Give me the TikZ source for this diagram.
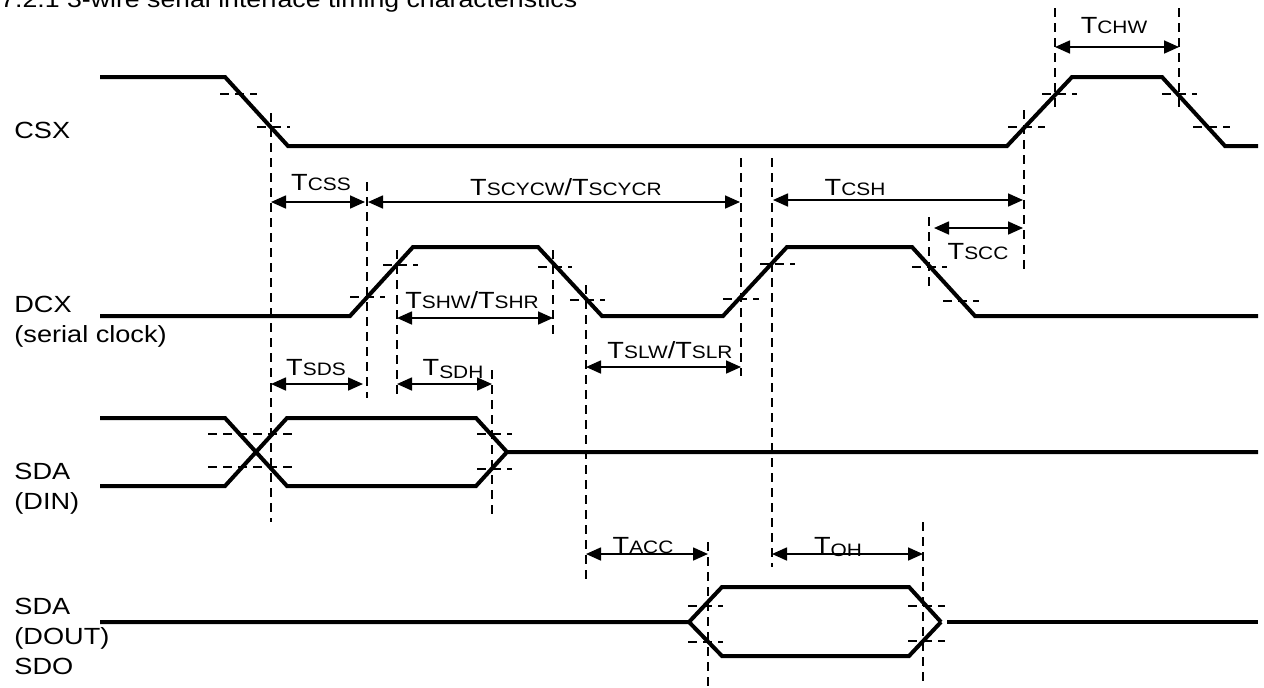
\documentclass[tikz,border=0pt]{standalone}
\usepackage{fontspec}
\setmainfont[FakeStretch=1.16]{Liberation Sans}
\usetikzlibrary{arrows.meta}
\newcommand\TT[1]{{\fontsize{11.7}{12}\selectfont T}{\fontsize{9}{9}\selectfont #1}}
\newcommand\TL[1]{{\fontsize{11.7}{12}\selectfont T}\raisebox{-1.5pt}{\fontsize{9}{9}\selectfont #1}}
\newcommand\SL{{\fontsize{11.7}{12}\selectfont /}}
\begin{document}
\begin{tikzpicture}[x=0.5pt,y=-0.5pt,
  sig/.style={line width=2pt},
  thr/.style={line width=0.9pt, dash pattern=on 4.5pt off 3pt},
  dim/.style={line width=0.85pt,{Triangle[length=7.5pt,width=6.5pt]}-{Triangle[length=7.5pt,width=6.5pt]}},
  lab/.style={font=\fontsize{11.7}{13}\selectfont, anchor=base west, inner sep=0},
  tl/.style={anchor=base, inner sep=0}]
\clip (0,0) rectangle (1264,687);
\fill[white] (0,0) rectangle (1264,687);

% title (cut at top in the reference)
\node[lab, font=\fontsize{11.5}{12}\selectfont] (title) at (0,7) {7.2.1 3-wire serial interface timing characteristics};

% left labels
\node[lab] (lcsx) at (14,138) {CSX};
\node[lab] (ldcx) at (14,312) {DCX};
\node[lab] (ldcx2) at (14,342) {(serial clock)};
\node[lab] (lsda) at (14,479) {SDA};
\node[lab] (lsda2) at (14,509) {(DIN)};
\node[lab] (lsdo) at (14,614) {SDA};
\node[lab] (lsdo2) at (14,644) {(DOUT)};
\node[lab] (lsdo3) at (14,674) {SDO};

% waveforms
\draw[sig] (100,77) -- (225,77) -- (288,146) -- (1007,146) -- (1072,77) -- (1162,77) -- (1225,146) -- (1258,146);
\draw[sig] (100,316) -- (350,316) -- (413,247) -- (538,247) -- (602,316) -- (723,316) -- (787,247) -- (912,247) -- (975,316) -- (1258,316);
\draw[sig] (100,418) -- (225,418) -- (287,486) -- (476,486) -- (507,452) -- (1258,452);
\draw[sig] (100,486) -- (225,486) -- (287,418) -- (476,418) -- (507,452);
\draw[sig] (100,622) -- (689,622) -- (722,587) -- (909,587) -- (941,622);
\draw[sig] (689,622) -- (722,656) -- (909,656) -- (941,622);
\draw[sig] (947,622) -- (1258,622);

% threshold ticks
\foreach \a/\b/\y in {220/257/94, 257/290/127, 1008/1045/127, 1042/1077/94, 1162/1197/94, 1193/1230/127,
  350/385/297, 383/418/265, 538/572/267, 570/605/300, 723/759/299, 760/795/264, 912/947/267, 943/979/301,
  208/293/434, 208/293/467, 477/512/434, 477/512/469,
  688/723/606, 688/723/642, 908/945/606, 908/945/641}
  \draw[thr] (\a,\y) -- (\b,\y);

% vertical reference lines
\foreach \x/\a/\b in {271/113/522, 367/182/398, 397/250/398, 553/250/337, 586/285/585,
  741/158/376, 772/158/567, 929/217/287, 1024/110/272, 1055/8/112, 1179/8/112,
  492/370/515, 708/542/687, 923/522/687}
  \draw[thr] (\x,\a) -- (\x,\b);

% dimension end points
\coordinate (chwA) at (1055,47);  \coordinate (chwB) at (1179,47);
\coordinate (cssA) at (271,202);  \coordinate (cssB) at (365,202);
\coordinate (scyA) at (368,202);  \coordinate (scyB) at (740,202);
\coordinate (cshA) at (773,200);  \coordinate (cshB) at (1023,200);
\coordinate (sccA) at (934,228);  \coordinate (sccB) at (1023,228);
\coordinate (shwA) at (397,318);  \coordinate (shwB) at (553,318);
\coordinate (slwA) at (586,367);  \coordinate (slwB) at (741,367);
\coordinate (sdsA) at (271,384);  \coordinate (sdsB) at (363,384);
\coordinate (sdhA) at (397,384);  \coordinate (sdhB) at (492,384);
\coordinate (accA) at (586,554);  \coordinate (accB) at (708,554);
\coordinate (ohA)  at (772,554);  \coordinate (ohB)  at (923,554);

\draw[dim] (chwA) -- (chwB);
\draw[dim] (cssA) -- (cssB);
\draw[dim] (scyA) -- (scyB);
\draw[dim] (cshA) -- (cshB);
\draw[dim] (sccA) -- (sccB);
\draw[dim] (shwA) -- (shwB);
\draw[dim] (slwA) -- (slwB);
\draw[dim] (sdsA) -- (sdsB);
\draw[dim] (sdhA) -- (sdhB);
\draw[dim] (accA) -- (accB);
\draw[dim] (ohA) -- (ohB);

% timing labels
\node[tl] (tchw) at (1114,33) {\TT{CHW}};
\node[tl] (tcss) at (321,190) {\TT{CSS}};
\node[tl] (tscy) at (566,195) {\TT{SCYCW}\SL\TT{SCYCR}};
\node[tl] (tcsh) at (855,195) {\TT{CSH}};
\node[tl] (tscc) at (978,259) {\TT{SCC}};
\node[tl] (tshw) at (472,308) {\TT{SHW}\SL\TT{SHR}};
\node[tl] (tslw) at (670,358) {\TT{SLW}\SL\TT{SLR}};
\node[tl] (tsds) at (316,375) {\TT{SDS}};
\node[tl] (tsdh) at (453,375) {\TL{SDH}};
\node[tl] (tacc) at (643,553) {\TT{ACC}};
\node[tl] (toh)  at (838,553) {\TL{OH}};
\end{tikzpicture}
\end{document}
